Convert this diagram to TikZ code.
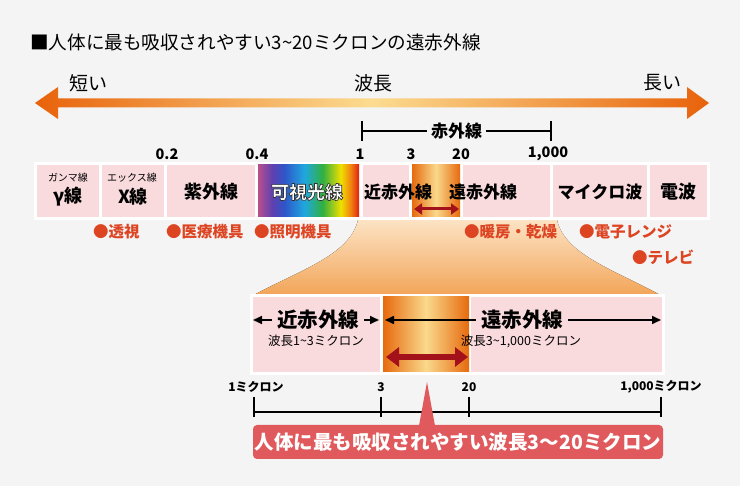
\documentclass[tikz,border=0pt]{standalone}
\usepackage{fontspec}
\setmainfont{Noto Sans CJK JP}
\usetikzlibrary{arrows.meta}
\definecolor{bg}{HTML}{F4F4F4}
\definecolor{pinkc}{HTML}{F9DADD}
\definecolor{fanTop}{HTML}{FCE3C4}
\definecolor{fanBot}{HTML}{F2A457}
\definecolor{arrowOr}{HTML}{E8620A}
\definecolor{arrowMid}{HTML}{FCDC90}
\definecolor{bulletc}{HTML}{DD4422}
\definecolor{calloutc}{HTML}{E05A5D}
\definecolor{darkred}{HTML}{A3121B}
\definecolor{orng}{HTML}{E66A0E}
\definecolor{pyel}{HTML}{FAD98C}
\definecolor{rb1}{HTML}{B8508C}
\definecolor{rb2}{HTML}{6040B0}
\definecolor{rb3}{HTML}{2F55C8}
\definecolor{rb4}{HTML}{20A8E0}
\definecolor{rb5}{HTML}{30B040}
\definecolor{rb6}{HTML}{F0E000}
\definecolor{rb7}{HTML}{F08010}
\definecolor{rb8}{HTML}{E02010}
\pgfdeclarehorizontalshading{rainbow}{100bp}{color(0bp)=(rb1); color(25bp)=(rb1); color(32bp)=(rb2); color(38bp)=(rb3); color(48bp)=(rb4); color(57bp)=(rb5); color(66bp)=(rb6); color(71bp)=(rb7); color(75bp)=(rb8); color(100bp)=(rb8)}
\newcommand\outlinedtext[1]{\special{pdf:code q 2 Tr 0.7 w 0.2 0.2 0.2 RG}#1\special{pdf:code Q}}
\tikzset{
  spec/.style={minimum height=52, inner sep=0, outer sep=0, anchor=north west, fill=pinkc},
  low/.style={minimum height=75, inner sep=0, outer sep=0, anchor=north west, fill=pinkc},
  orbox/.style={left color=orng, right color=orng, middle color=pyel},
  lbl/.style={font=\fontsize{18}{18}\selectfont\bfseries, inner sep=0},
  small/.style={font=\fontsize{10}{10}\selectfont, inner sep=0},
  num/.style={font=\fontsize{14.5}{15}\selectfont\bfseries, inner sep=0},
  bul/.style={font=\fontsize{15.5}{16}\selectfont\bfseries, text=bulletc, inner sep=0, anchor=west},
  hdr/.style={font=\fontsize{19}{19}\selectfont, inner sep=0},
  lbl2/.style={font=\fontsize{20.5}{21}\selectfont\bfseries, inner xsep=5pt, inner ysep=0},
  sub/.style={font=\fontsize{12.5}{13}\selectfont, inner sep=0},
  axl/.style={font=\fontsize{12}{12}\selectfont\bfseries, inner sep=0},
  blkarrow/.style={line width=1.6pt, -{Triangle[length=9pt,width=8pt]}},
  drarrowA/.style={darkred, line width=3pt, {Triangle[length=8pt,width=11pt]}-{Triangle[length=8pt,width=11pt]}},
  drarrowB/.style={darkred, line width=6pt, {Triangle[length=13pt,width=19pt]}-{Triangle[length=13pt,width=19pt]}},
  ax/.style={line width=1.6pt, line cap=butt}
}
\begin{document}
\begin{tikzpicture}[x=1pt,y=-1pt]
\useasboundingbox (0,0) rectangle (740,486);
\fill[bg] (0,0) rectangle (740,486);

% title
\node[anchor=west, font=\fontsize{18.6}{19}\selectfont, inner sep=0] (title) at (30,42) {■人体に最も吸収されやすい3\textasciitilde20ミクロンの遠赤外線};

% wavelength arrow
\shade[left color=arrowOr, right color=arrowOr, middle color=arrowMid]
  (35,103) -- (58,87) -- (58,98.5) -- (687,98.5) -- (687,87) -- (709,103)
  -- (687,119) -- (687,107.5) -- (58,107.5) -- (58,119) -- cycle;
\node[hdr] (short) at (88,83) {短い};
\node[hdr] (wl) at (373,83) {波長};
\node[hdr] (long) at (662,83) {長い};

% infrared bracket
\coordinate (irL) at (361,131);
\coordinate (irR) at (552,131);
\draw[line width=1.8pt, {Bar[width=20pt]}-{Bar[width=20pt]}] (irL) -- node[fill=bg, inner xsep=4pt, inner ysep=1pt, font=\fontsize{17}{17}\selectfont\bfseries] (irT) {赤外線} (irR);

% numbers
\node[num] (n02) at (167,154) {0.2};
\node[num] (n04) at (257,154) {0.4};
\node[num] (n1) at (360,154) {1};
\node[num] (n3) at (411,154) {3};
\node[num] (n20) at (461,154) {20};
\node[num] (n1000) at (548,154) {1,000};

% fan
\fill[top color=fanTop, bottom color=fanBot]
  (358,220) -- (557,220) .. controls (565,255) and (615,270) .. (662,296)
  -- (252,296) .. controls (300,270) and (350,255) .. (358,220) -- cycle;

% upper strip
\fill[white] (34,162) rectangle (710,220);
\node[spec, minimum width=62] (bG) at (37,165) {};
\node[spec, minimum width=62] (bX) at (102,165) {};
\node[spec, minimum width=88] (bUV) at (167,165) {};
\node[spec, minimum width=101, shade, shading=rainbow] (bVis) at (258,165) {};
\node[spec, minimum width=46] (bNIR) at (363,165) {};
\node[spec, minimum width=48, orbox] (bOr) at (412,165) {};
\node[spec, minimum width=87] (bFIR) at (463,165) {};
\node[spec, minimum width=94] (bMW) at (553,165) {};
\node[spec, minimum width=57] (bRW) at (650,165) {};

\node[small] (tGs) at (68,178) {ガンマ線};
\node[lbl] (tG) at (68,197) {γ線};
\node[small] (tXs) at (132,178) {エックス線};
\node[lbl] (tX) at (133,197) {X線};
\node[lbl] (tUV) at (211,192) {紫外線};
\node[lbl, text=white] (tVis) at (307,192) {\outlinedtext{可視光線}};
\node[lbl, font=\fontsize{17}{17}\selectfont\bfseries] (tNIR) at (398,192) {近赤外線};
\node[lbl, font=\fontsize{17}{17}\selectfont\bfseries] (tFIR) at (483,192) {遠赤外線};
\node[lbl, font=\fontsize{17}{17}\selectfont\bfseries] (tMW) at (600,192) {マイクロ波};
\node[lbl] (tRW) at (678,192) {電波};

\coordinate (ua1) at (414,209);
\coordinate (ua2) at (459,209);
\draw[drarrowA] (ua1) -- (ua2);

% uses
\node[bul] (u1) at (93,232) {●透視};
\node[bul] (u2) at (166,232) {●医療機具};
\node[bul] (u3) at (254,232) {●照明機具};
\node[bul] (u4) at (464,232) {●暖房・乾燥};
\node[bul] (u5) at (579,232) {●電子レンジ};
\node[bul] (u6) at (632,257) {●テレビ};

% lower strip
\fill[white] (250,294) rectangle (665,375);
\node[low, minimum width=127] (lL) at (253,297) {};
\node[low, minimum width=86, orbox] (lO) at (383,297) {};
\node[low, minimum width=191] (lR) at (471,297) {};

\node[lbl2] (lNIR) at (318,320) {近赤外線};
\draw[blkarrow] (lNIR.west) -- (lL.west |- lNIR.west);
\draw[blkarrow] (lNIR.east) -- ([xshift=-1pt]lL.east |- lNIR.east);
\node[lbl2] (lFIR) at (522,320) {遠赤外線};
\draw[blkarrow] (lFIR.west) -- ([xshift=2pt]lO.west |- lFIR.west);
\draw[blkarrow] (lFIR.east) -- ([xshift=-1pt]lR.east |- lFIR.east);
\node[sub] (sL) at (316,341) {波長1\textasciitilde3ミクロン};
\node[sub] (sR) at (521,341) {波長3\textasciitilde1,000ミクロン};

\coordinate (la1) at (386,357);
\coordinate (la2) at (468,357);
\draw[drarrowB] (la1) -- (la2);

% axis
\coordinate (a1) at (254,412);
\coordinate (a3) at (381,412);
\coordinate (a20) at (469,412);
\coordinate (a1000) at (661,412);
\draw[ax] (a1) -- (a1000);
\foreach \c in {a1,a3,a20,a1000}
  \draw[ax] ([yshift=15pt]\c) -- ([yshift=-5pt]\c);
\node[axl] (x1) at (256,387) {1ミクロン};
\node[axl] (x3) at (381,387) {3};
\node[axl] (x20) at (469,387) {20};
\node[axl] (x1000) at (661,387) {1,000ミクロン};

% callout
\node[fill=calloutc, rounded corners=4pt, minimum width=410, minimum height=34, inner sep=0,
      text=white, font=\fontsize{19.5}{20}\selectfont\bfseries] (co) at (458,442) {人体に最も吸収されやすい波長3〜20ミクロン};
\coordinate (ptr) at (427,382);
\fill[calloutc] (ptr) -- ([xshift=-8pt,yshift=-1pt]ptr |- co.north) -- ([xshift=8pt,yshift=-1pt]ptr |- co.north) -- cycle;
\end{tikzpicture}
\end{document}
